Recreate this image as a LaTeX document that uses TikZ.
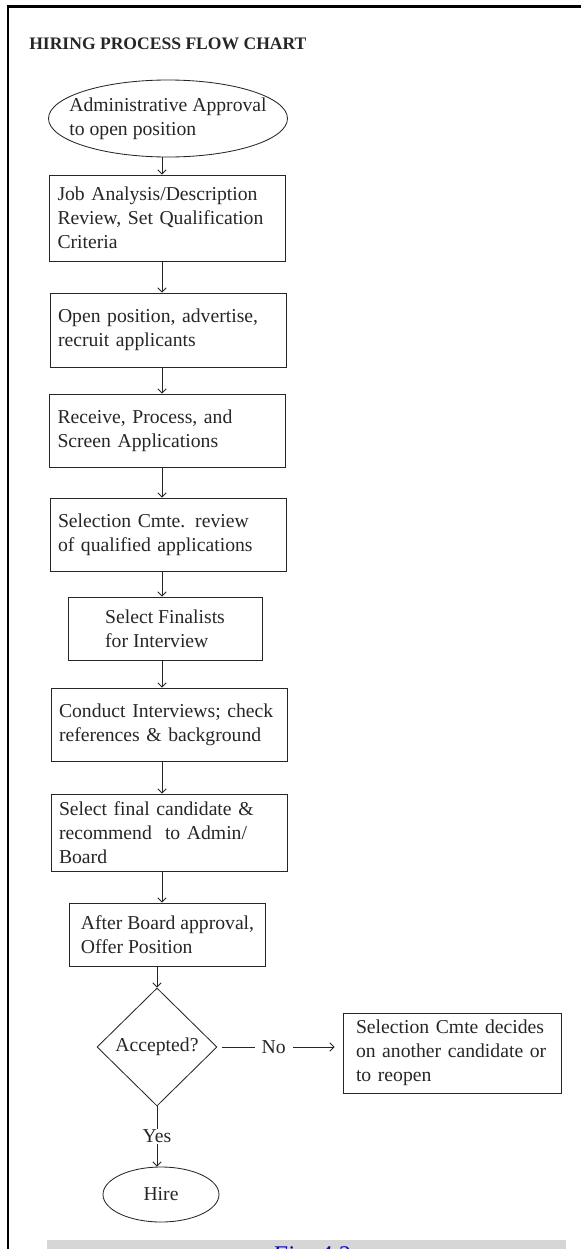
\documentclass[tikz,border=0pt]{standalone}
\usepackage{fontspec}
\setmainfont{Liberation Serif}
\usetikzlibrary{shapes.geometric,arrows.meta}

\begin{document}
\begin{tikzpicture}[
    >={Straight Barb[length=3pt,width=6pt]},
    every node/.style={text=black!85},
    ink/.style={draw=black!85, line width=0.6pt},
    box/.style={ink, align=left, inner xsep=0.275cm, inner ysep=0.15cm,
                font=\fontsize{14}{17}\selectfont},
    widebox/.style={box, text width=5.5cm, inner xsep=0.2cm},
    terminal/.style={box, ellipse},
    test/.style={box, diamond, inner sep=0pt, minimum width=3cm, minimum height=2.95cm},
    tag/.style={fill=white, font=\fontsize{14}{17}\selectfont, inner xsep=0.175cm, inner ysep=1pt}
  ]
  \useasboundingbox (0,0) rectangle (14.525,-31.225);
  \begin{scope}
    \clip (0,0) rectangle (14.525,-31.225);
    \draw[line width=1.8pt] (0.195,-31.5) -- (0.195,-0.16) -- (14.8,-0.16);
    \fill[black!16] (1.175,-31.0) rectangle (14.15,-31.5);
    \node[anchor=north, inner sep=0pt, text=blue!75!black, font=\fontsize{17}{20}\selectfont\itshape]
      at (7.775,-31.16) (caption) {Fig. 4.2};
  \end{scope}
  \node[anchor=base west, inner sep=0pt, font=\fontsize{12.5}{15}\selectfont\bfseries]
    at (0.725,-1.225) (title) {HIRING PROCESS FLOW CHART};
  \coordinate (spine) at (4.05,0);

  \node[terminal, inner xsep=-0.4cm, inner ysep=0.1cm, minimum width=5.975cm, minimum height=1.925cm]
    at (4.2,-2.9625) (approve) {Administrative Approval\\to open position};
  \node[widebox, minimum height=2.15cm] at (4.1875,-5.45) (analysis)
    {Job Analysis/Description\\Review, Set Qualification\\Criteria};
  \node[widebox, minimum height=1.85cm] at (4.2,-8.25) (advertise)
    {Open position, advertise,\\recruit applicants};
  \node[widebox, minimum height=1.825cm] at (4.1875,-10.7625) (screen)
    {Receive, Process, and\\Screen Applications};
  \node[widebox, minimum height=1.825cm] at (4.2,-13.3625) (review)
    {Selection Cmte. review\\of qualified applications};
  \node[box, minimum width=4.85cm, minimum height=1.575cm] at (4.125,-15.7125) (finalists)
    {Select Finalists\\for Interview};
  \node[widebox, minimum height=1.825cm] at (4.225,-18.1125) (interview)
    {Conduct Interviews; check\\references \& background};
  \node[widebox, minimum height=1.925cm] at (4.225,-20.8125) (recommend)
    {Select final candidate \&\\recommend\ \ to Admin/\\Board};
  \node[box, minimum width=4.775cm, minimum height=1.575cm] at (4.1875,-23.3625) (offer)
    {After Board approval,\\Offer Position};
  \node[test] at (3.925,-26.175) (accepted) {Accepted?};
  \node[box, text width=4.8cm, inner xsep=0.325cm, minimum height=2cm] at (11.3,-26.325) (reopen)
    {Selection Cmte decides\\on another candidate or\\to reopen};
  \node[terminal, inner sep=0pt, minimum width=2.9cm, minimum height=1.375cm]
    at (4.025,-29.8625) (hire) {Hire};

  \draw[->, ink] (approve.south -| spine) -- (analysis.north -| spine);
  \draw[->, ink] (analysis.south -| spine) -- (advertise.north -| spine);
  \draw[->, ink] (advertise.south -| spine) -- (screen.north -| spine);
  \draw[->, ink] (screen.south -| spine) -- (review.north -| spine);
  \draw[->, ink] (review.south -| spine) -- (finalists.north -| spine);
  \draw[->, ink] (finalists.south -| spine) -- (interview.north -| spine);
  \draw[->, ink] (interview.south -| spine) -- (recommend.north -| spine);
  \draw[->, ink] (recommend.south -| spine) -- (offer.north -| spine);
  \draw[->, ink] (offer.south -| accepted.north) -- (accepted.north);
  \draw[->, ink, shorten <=0.125cm, shorten >=0.2cm] (accepted.east)
    -- node[tag, pos=0.45] {No} (accepted.east -| reopen.west);
  \draw[->, ink] (accepted.south) -- node[tag] {Yes} (accepted.south |- hire.north);
\end{tikzpicture}
\end{document}
